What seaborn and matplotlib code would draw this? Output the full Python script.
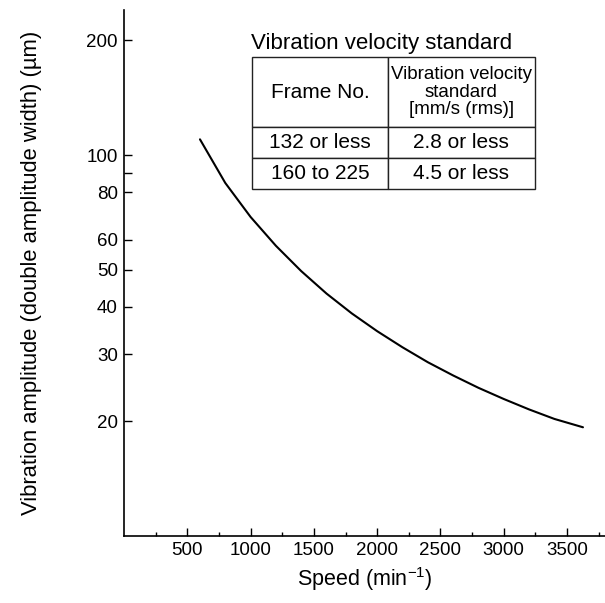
import matplotlib
matplotlib.use("Agg")
import matplotlib.pyplot as plt
import seaborn as sns
from matplotlib.ticker import FixedLocator, FixedFormatter, MultipleLocator

# curve
speed = [600, 800, 1000, 1200, 1400, 1600, 1800, 2000, 2200, 2400,
         2600, 2800, 3000, 3200, 3400, 3626]
amplitude = [110, 84.5, 68.8, 57.8, 49.6, 43.3, 38.4, 34.5, 31.3, 28.6,
             26.4, 24.5, 22.9, 21.5, 20.3, 19.3]

y_ticks = [20, 30, 40, 50, 60, 80, 90, 100, 200]
y_labels = ["20", "30", "40", "50", "60", "80", "", "100", "200"]
x_ticks = [500, 1000, 1500, 2000, 2500, 3000, 3500]

table_title = "Vibration velocity standard"
col_labels = ["Frame No.", "Vibration velocity\nstandard\n[mm/s (rms)]"]
frame_no = ["132 or less", "160 to 225"]
velocity_std = ["2.8 or less", "4.5 or less"]

sns.set_style("ticks")
plt.rcParams["font.family"] = ["Liberation Sans", "DejaVu Sans"]
plt.rcParams["mathtext.fontset"] = "custom"
plt.rcParams["mathtext.rm"] = "Liberation Sans"
plt.rcParams["text.color"] = "black"
plt.rcParams["axes.labelcolor"] = "black"
plt.rcParams["xtick.color"] = "black"
plt.rcParams["ytick.color"] = "black"

fig = plt.figure(figsize=(6.05, 6.03), dpi=100)
ax = fig.add_axes([0.205, 0.111, 0.795, 0.872])

sns.lineplot(x=speed, y=amplitude, color="black", linewidth=1.5, ax=ax)

ax.set_yscale("log")
ax.set_ylim(10, 240)
ax.set_xlim(0, 3800)

ax.yaxis.set_major_locator(FixedLocator(y_ticks))
ax.yaxis.set_major_formatter(FixedFormatter(y_labels))
ax.yaxis.set_minor_locator(FixedLocator([]))
ax.xaxis.set_major_locator(FixedLocator(x_ticks))
ax.xaxis.set_minor_locator(MultipleLocator(500, offset=250))

ax.tick_params(axis="both", which="major", direction="in", length=6, width=1,
               labelsize=13.5, color="black", labelcolor="black", pad=4.5)
ax.tick_params(axis="x", which="minor", direction="in", length=3, width=1, color="black")

sns.despine(ax=ax)
for s in ["left", "bottom"]:
    ax.spines[s].set_linewidth(1.2)
    ax.spines[s].set_color("black")

ax.set_xlabel("Speed (min$^{\\mathregular{-1}}$)", fontsize=15.5, labelpad=4)
ax.set_ylabel("Vibration amplitude (double amplitude width) (\u00b5m)", fontsize=15.8)
ax.yaxis.set_label_coords(-0.17, 0.5)

# standard table
ax.text(0.264, 0.926, table_title, transform=ax.transAxes, fontsize=16,
        ha="left", va="baseline")
cell_text = [[f, v] for f, v in zip(frame_no, velocity_std)]
tbl = ax.table(cellText=cell_text, colLabels=col_labels, cellLoc="center",
               colWidths=[136, 147], bbox=[0.266, 0.6597, 0.588, 0.251])
tbl.auto_set_font_size(False)
tbl.set_fontsize(15)
for (r, c), cell in tbl.get_celld().items():
    cell.set_edgecolor("#222222")
    cell.set_linewidth(1.0)
    cell.set_height(70 if r == 0 else 31)
    cell.get_text().set_color("black")
    if r == 0 and c == 1:
        cell.get_text().set_fontsize(13.5)
        cell.get_text().set_linespacing(1.05)

fig.savefig("out.png", dpi=100)
